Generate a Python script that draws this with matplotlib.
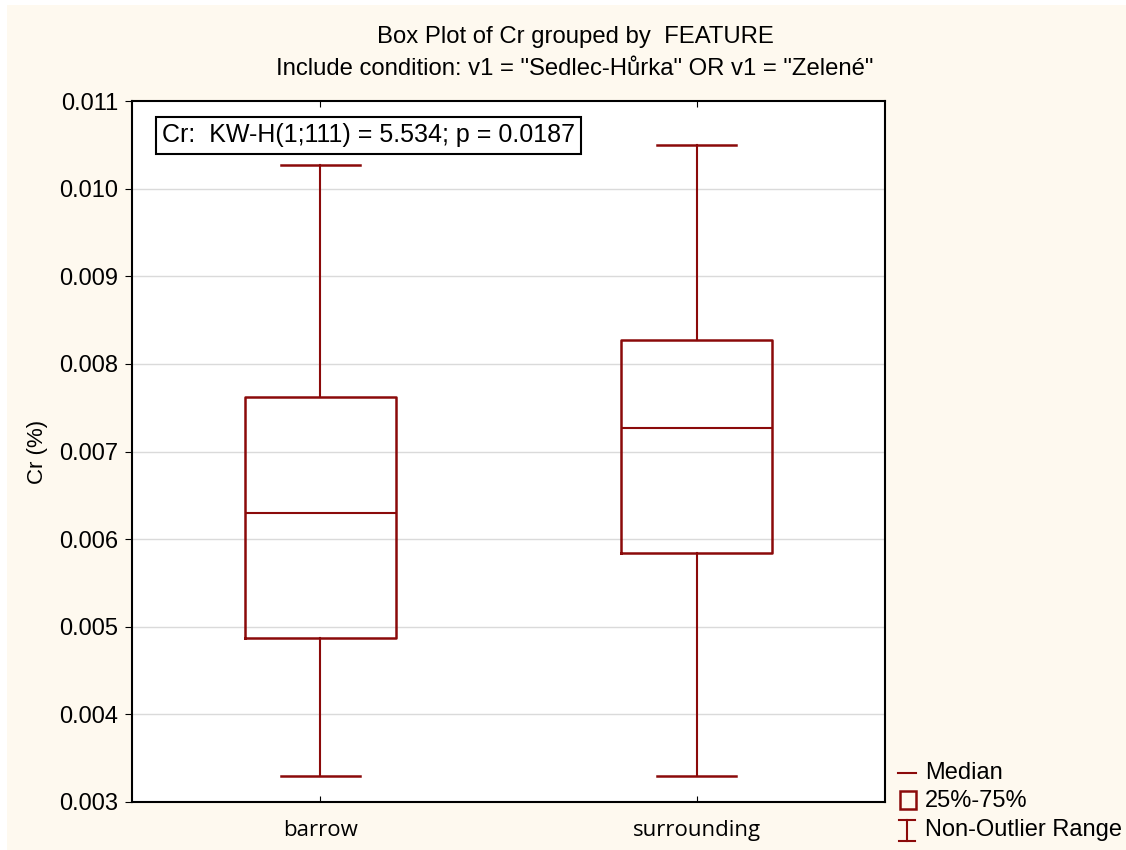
import matplotlib
matplotlib.use("Agg")
import matplotlib.pyplot as plt
from matplotlib.patches import Rectangle
from matplotlib.lines import Line2D

# group labels and box statistics (Cr, %)
groups = ["barrow", "surrounding"]
whisker_low = [0.00330, 0.00330]
q1 = [0.00487, 0.00584]
medians = [0.00630, 0.00727]
q3 = [0.00762, 0.00827]
whisker_high = [0.01027, 0.01050]

y_ticks = [0.003, 0.004, 0.005, 0.006, 0.007, 0.008, 0.009, 0.010, 0.011]
stat_text = "Cr:  KW-H(1;111) = 5.534; p = 0.0187"

RED = "#8B0A0A"
CREAM = "#FEF9EF"
plt.rcParams["font.family"] = ["Liberation Sans", "DejaVu Sans"]

fig = plt.figure(figsize=(11.26, 8.5), dpi=100, facecolor="white")
fig.patches.append(Rectangle((7 / 1126, 0), 1, 1 - 5 / 850, transform=fig.transFigure,
                             facecolor=CREAM, edgecolor="none", zorder=-10))

ax = fig.add_axes([132 / 1126, 1 - 802 / 850, 753 / 1126, 701 / 850])
ax.set_facecolor("white")

stats = []
for i, g in enumerate(groups):
    stats.append(dict(label=g, whislo=whisker_low[i], q1=q1[i], med=medians[i],
                      q3=q3[i], whishi=whisker_high[i], fliers=[]))

ax.bxp(stats, positions=[1, 2], widths=0.4, capwidths=0.21, showfliers=False,
       boxprops=dict(color=RED, linewidth=1.8),
       medianprops=dict(color=RED, linewidth=1.5),
       whiskerprops=dict(color=RED, linewidth=1.5),
       capprops=dict(color=RED, linewidth=1.8))

ax.set_xlim(0.5, 2.5)
ax.set_ylim(0.003, 0.011)
ax.set_yticks(y_ticks)
ax.set_yticklabels([f"{v:.3f}" for v in y_ticks], fontsize=17)
ax.set_xticks([1, 2])
ax.set_xticklabels(groups, fontsize=16, family=["Open Sans", "DejaVu Sans"])
ax.tick_params(axis="x", direction="in", top=True, length=4, pad=13)
ax.tick_params(axis="y", direction="out", length=5, pad=5)
for v in y_ticks[1:-1]:
    ax.axhline(v, color="#DADADA", linewidth=1, zorder=0)
for s in ax.spines.values():
    s.set_linewidth(1.5)
ax.set_ylabel("Cr (%)", fontsize=16, labelpad=8)

ax.text(0.04, 0.951, stat_text, transform=ax.transAxes, fontsize=18,
        va="center", ha="left",
        bbox=dict(boxstyle="square,pad=0.25", facecolor="white", edgecolor="black", linewidth=1.5))

title_family = ["Liberation Sans Narrow", "Liberation Sans"]
fig.text(575 / 1126, 1 - 37 / 850, "Box Plot of Cr grouped by  FEATURE",
         ha="center", va="center", fontsize=17.2, family=title_family)
fig.text(575 / 1126, 1 - 69 / 850, 'Include condition: v1 = "Sedlec-Hůrka" OR v1 = "Zelené"',
         ha="center", va="center", fontsize=17.2, family=title_family)

# legend keys drawn in figure pixels
def fx(px):
    return px / 1126

def fy(py):
    return 1 - py / 850

tf = fig.transFigure
fig.lines.append(Line2D([fx(898), fx(916)], [fy(773), fy(773)], color=RED, lw=1.5, transform=tf))
fig.patches.append(Rectangle((fx(900), fy(809)), fx(16), 18 / 850, transform=tf,
                             facecolor="none", edgecolor=RED, lw=1.8))
fig.lines.append(Line2D([fx(907), fx(907)], [fy(820), fy(841)], color=RED, lw=1.5, transform=tf))
fig.lines.append(Line2D([fx(899), fx(915)], [fy(820), fy(820)], color=RED, lw=1.5, transform=tf))
fig.lines.append(Line2D([fx(899), fx(915)], [fy(841), fy(841)], color=RED, lw=1.5, transform=tf))
for label, py in [("Median", 773), ("25%-75%", 801), ("Non-Outlier Range", 830)]:
    fig.text(fx(925), fy(py), label, ha="left", va="center", fontsize=17)

fig.savefig("out.png", dpi=100, facecolor=fig.get_facecolor())
